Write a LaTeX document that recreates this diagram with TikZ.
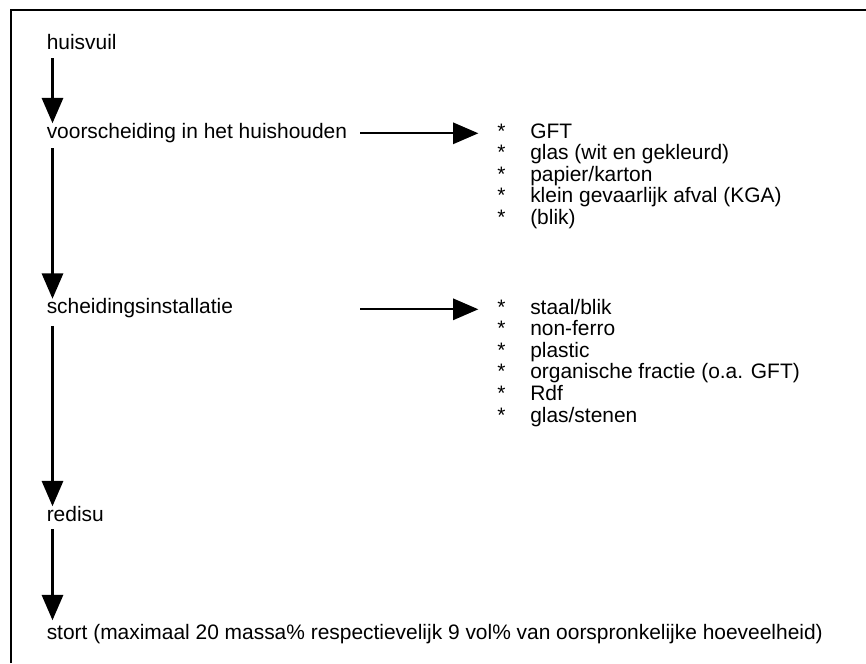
\documentclass[tikz,border=0pt]{standalone}
\usepackage{fontspec}
\setmainfont{Liberation Sans}
\usetikzlibrary{arrows.meta}

\tikzset{
	txt/.style={anchor=base west, inner sep=0pt, text height=10.9pt, text depth=3pt, font=\fontsize{15.7pt}{18pt}\selectfont},
	flow/.style={line width=1.6pt, -{Triangle[length=19pt,width=16pt]}, shorten <=3pt},
}

\begin{document}
\begin{tikzpicture}[x=0.75pt,y=0.75pt,yscale=-1,xscale=1]
		\useasboundingbox (0,0) rectangle (866,663);

		%Frame
		\draw [line width=1.9pt]  (11,663) -- (11,10) -- (866,10) ;

		% Text Node
		\node [txt] (huis) at (46.5,50) {huisvuil};
		% Text Node
		\node [txt] (voor) at (46.5,138) {voorscheiding in het huishouden};
		% Text Node
		\node [txt] (scheid) at (46.5,313.5) {scheidingsinstallatie};
		% Text Node
		\node [txt] (redisu) at (46.5,521) {redisu};
		% Text Node
		\node [txt] (stort) at (46.5,639) {stort (maximaal 20 massa\% respectievelijk 9 vol\% van oorspronkelijke hoeveelheid)};

		% Text Node -- voorscheiding
		\node [txt] (st1) at (497,138) {*};
		\node [txt] (gft) at (530,138) {GFT};
		\node [txt] (st2) at (497,159.5) {*};
		\node [txt] (glas) at (530,159.5) {glas (wit en gekleurd)};
		\node [txt] (st3) at (497,181) {*};
		\node [txt] (papier) at (530,181) {papier/karton};
		\node [txt] (st4) at (497,202.5) {*};
		\node [txt] (kga) at (530,202.5) {klein gevaarlijk afval (KGA)};
		\node [txt] (st5) at (497,224) {*};
		\node [txt] (blik) at (530,224) {(blik)};

		% Text Node -- scheidingsinstallatie
		\node [txt] (st6) at (497,314) {*};
		\node [txt] (staal) at (530,314) {staal/blik};
		\node [txt] (st7) at (497,335.6) {*};
		\node [txt] (nonferro) at (530,335.6) {non-ferro};
		\node [txt] (st8) at (497,357.2) {*};
		\node [txt] (plastic) at (530,357.2) {plastic};
		\node [txt] (st9) at (497,378.8) {*};
		\node [txt] (organisch) at (530,378.8) {organische fractie (o.a. GFT)};
		\node [txt] (st10) at (497,400.4) {*};
		\node [txt] (rdf) at (530,400.4) {Rdf};
		\node [txt] (st11) at (497,422) {*};
		\node [txt] (stenen) at (530,422) {glas/stenen};

		%Straight Lines -- main flow
		\draw [flow] ([xshift=4.5pt]huis.south west) -- ([xshift=4.5pt]voor.north west) ;
		\draw [flow, shorten <=4.5pt] ([xshift=4.5pt]voor.south west) -- ([xshift=4.5pt]scheid.north west) ;
		\draw [flow, shorten <=6pt] ([xshift=4.5pt]scheid.south west) -- ([xshift=4.5pt]redisu.north west) ;
		\draw [flow, shorten >=3pt] ([xshift=4.5pt]redisu.south west) -- ([xshift=4.5pt]stort.north west) ;

		%Straight Lines -- side branches
		\coordinate (a1) at (360,133.3);
		\coordinate (a2) at (360,309.3);
		\draw [flow, shorten <=0pt] (a1) -- ([xshift=-14pt]st1.west |- a1) ;
		\draw [flow, shorten <=0pt] (a2) -- ([xshift=-14pt]st6.west |- a2) ;

\end{tikzpicture}
\end{document}
